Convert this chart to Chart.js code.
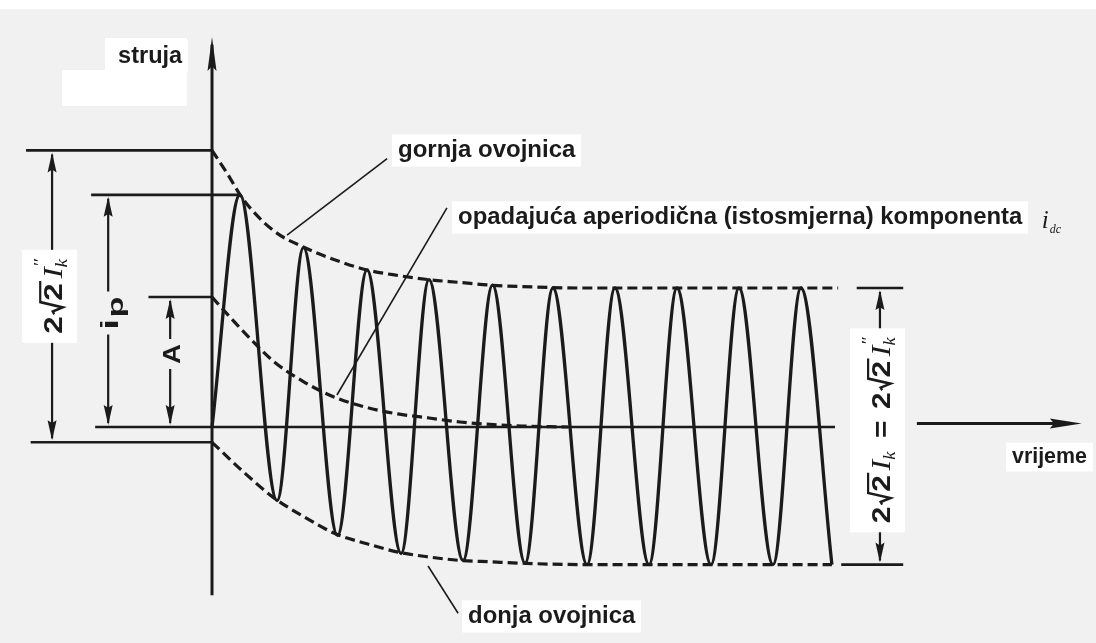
<!DOCTYPE html>
<html>
<head>
<meta charset="utf-8">
<title>Struja kratkog spoja</title>
<script src="https://cdn.jsdelivr.net/npm/chart.js@4.4.1/dist/chart.umd.min.js"></script>
<style>
  html, body { margin: 0; padding: 0; background: #f1f1f1; }
</style>
</head>
<body>
<canvas id="my-chart" width="1096" height="643"></canvas>
<script>
'use strict';

// t in ms (one period = 20 ms), current in units of the steady peak sqrt(2)*Ik
let waveTimes = [0, 9, 21, 29.5, 40.5, 50, 61, 70, 81, 90.5, 101, 110, 121, 130, 141, 150, 161, 170, 181, 190, 200];
let waveValues = [0, 1.67, -0.53, 1.29, -0.78, 1.13, -0.91, 1.06, -0.96, 1.02, -0.98, 1.0, -0.99, 1.0, -0.99, 1.0, -0.99, 1.0, -0.99, 1.0, -0.99];

let upperTimes = [0, 5, 10, 20, 30, 40, 50, 60, 70, 80, 90, 100, 120, 202];
let upperValues = [1.99, 1.82, 1.64, 1.41, 1.29, 1.2, 1.13, 1.09, 1.06, 1.04, 1.02, 1.01, 1.0, 1.0];

let lowerTimes = [0, 10, 20, 30, 40, 50, 60, 70, 80, 90, 100, 120, 200];
let lowerValues = [-0.11, -0.32, -0.51, -0.65, -0.77, -0.84, -0.9, -0.935, -0.96, -0.97, -0.98, -0.99, -0.99];

let dcTimes = [0, 5, 10, 20, 30, 40, 50, 60, 70, 80, 100, 115];
let dcValues = [0.935, 0.81, 0.69, 0.47, 0.32, 0.21, 0.14, 0.094, 0.065, 0.036, 0.007, 0];

// horizontal reference lines: 2*sqrt2*Ik'' top, i_p, A, bottom
let refLevels = [1.99, 1.67, 0.935, -0.11];
let refFrom = [-60, -39, -20.5, -58.5];
let refTo = [0, 9, 0, 0];

// reference lines for the steady state on the right
let rightLevels = [1.0, -0.99];
let rightFrom = [208, 203];
let rightTo = [223, 223];

let zeroFrom = -37.7;
let zeroTo = 201;

let ink = '#1b1b1b';

function sansBold(s) {
  return 'bold ' + s + 'px "Liberation Sans", Arial, sans-serif';
}
function serifItalic(s) {
  return 'italic ' + s + 'px "Liberation Serif", "Times New Roman", serif';
}

function series(times, values) {
  return times.map((t, i) => ({ x: t, y: values[i] }));
}

function lineSet(data, width, dash, smooth) {
  return {
    data: data,
    borderColor: ink,
    borderWidth: width,
    borderDash: dash || [],
    cubicInterpolationMode: smooth ? 'monotone' : 'default',
    pointRadius: 0,
    fill: false
  };
}

let datasets = [
  lineSet(series(waveTimes, waveValues), 3.3, null, true),
  lineSet(series(upperTimes, upperValues), 3.2, [10, 5], true),
  lineSet(series(lowerTimes, lowerValues), 3.2, [10, 5], true),
  lineSet(series(dcTimes, dcValues), 3.2, [10, 5], true),
  lineSet([{ x: zeroFrom, y: 0 }, { x: zeroTo, y: 0 }], 2.6)
];
for (let i = 0; i < refLevels.length; i++) {
  datasets.push(lineSet([{ x: refFrom[i], y: refLevels[i] }, { x: refTo[i], y: refLevels[i] }], 2.6));
}
for (let i = 0; i < rightLevels.length; i++) {
  datasets.push(lineSet([{ x: rightFrom[i], y: rightLevels[i] }, { x: rightTo[i], y: rightLevels[i] }], 2.6));
}

function arrowHead(ctx, x, y, angle, len, half) {
  ctx.save();
  ctx.translate(x, y);
  ctx.rotate(angle);
  ctx.beginPath();
  ctx.moveTo(0, 0);
  ctx.lineTo(-len, -half);
  ctx.lineTo(-len * 0.86, 0);
  ctx.lineTo(-len, half);
  ctx.closePath();
  ctx.fill();
  ctx.restore();
}

function fitText(ctx, text, left, base, width) {
  ctx.font = sansBold(100);
  let size = 100 * width / ctx.measureText(text).width;
  ctx.font = sansBold(size.toFixed(1));
  ctx.fillStyle = '#ffffff';
  ctx.fillRect(left - 6, base - size * 0.95, width + 12, size * 1.35);
  ctx.fillStyle = ink;
  ctx.textBaseline = 'alphabetic';
  ctx.fillText(text, left, base);
}

// lays out a small formula along one line; radicals get a drawn root sign
function layoutTokens(ctx, tokens) {
  let x = 0;
  let prevX = 0;
  let items = [];
  tokens.forEach(tk => {
    ctx.font = tk.font;
    let w = ctx.measureText(tk.text).width;
    let start = tk.stack ? prevX : x + (tk.gap || 0);
    let lead = tk.radical ? tk.size * 0.46 : 0;
    items.push({ tk: tk, x: start, lead: lead, w: w });
    if (!tk.stack) {
      prevX = start;
      x = start + lead + w + (tk.radical ? 2 : 0);
    }
  });
  return { items: items, width: x };
}

function drawRotatedFormula(ctx, tokens, baseX, centerY, length) {
  let lay = layoutTokens(ctx, tokens);
  ctx.save();
  ctx.translate(baseX, centerY);
  ctx.rotate(-Math.PI / 2);
  ctx.scale(length / lay.width, 1);
  ctx.translate(-lay.width / 2, 0);
  ctx.fillStyle = ink;
  ctx.strokeStyle = ink;
  ctx.textBaseline = 'alphabetic';
  lay.items.forEach(it => {
    let tk = it.tk;
    ctx.font = tk.font;
    if (tk.radical) {
      let s = tk.size;
      ctx.lineWidth = 2.2;
      ctx.beginPath();
      ctx.moveTo(it.x + 0.03 * s, -0.3 * s);
      ctx.lineTo(it.x + 0.12 * s, -0.36 * s);
      ctx.lineTo(it.x + 0.25 * s, 0.02 * s);
      ctx.lineTo(it.x + 0.42 * s, -0.84 * s);
      ctx.lineTo(it.x + it.lead + it.w + 2, -0.84 * s);
      ctx.stroke();
    }
    ctx.fillText(tk.text, it.x + it.lead, tk.dy || 0);
  });
  ctx.restore();
}

function ikTokens(withPrimes) {
  let t = [
    { text: '2', font: sansBold(26) },
    { text: '2', font: sansBold(26), radical: true, size: 26, gap: 1 },
    { text: 'I', font: serifItalic(28), gap: 2 },
    { text: 'k', font: serifItalic(16), dy: 5 }
  ];
  if (withPrimes) {
    t.push({ text: '\u2033', font: serifItalic(17), dy: -17, stack: true });
  }
  return t;
}

let diagramPlugin = {
  id: 'diagram',
  beforeDraw(chart) {
    let ctx = chart.ctx;
    ctx.save();
    ctx.fillStyle = '#f1f1f1';
    ctx.fillRect(0, 0, chart.width, chart.height);
    ctx.fillStyle = '#ffffff';
    ctx.fillRect(0, 0, chart.width, 9);
    ctx.fillRect(105, 38, 82, 34);
    ctx.fillRect(62, 70, 125, 36);
    ctx.restore();
  },
  afterDatasetsDraw(chart) {
    let ctx = chart.ctx;
    let X = v => chart.scales.x.getPixelForValue(v);
    let Y = v => chart.scales.y.getPixelForValue(v);
    ctx.save();
    ctx.fillStyle = ink;
    ctx.strokeStyle = ink;
    ctx.lineCap = 'butt';

    // current axis with arrow
    ctx.lineWidth = 3;
    ctx.beginPath();
    ctx.moveTo(X(0), Y(-1.21));
    ctx.lineTo(X(0), Y(2.75));
    ctx.stroke();
    arrowHead(ctx, X(0), Y(2.806), -Math.PI / 2, 34, 4.5);

    // time arrow
    ctx.beginPath();
    ctx.moveTo(X(227.4), Y(0.025));
    ctx.lineTo(X(275), Y(0.025));
    ctx.stroke();
    arrowHead(ctx, X(280.6), Y(0.025), 0, 32, 5);

    // dimension lines with labels
    let ipTokens = [
      { text: 'i', font: sansBold(24) },
      { text: 'p', font: sansBold(22), dy: 5, gap: 1 }
    ];
    let rightTokens = ikTokens(false).concat(
      [{ text: '=', font: sansBold(26), gap: 12 }],
      ikTokens(true).map((tk, k) => k === 0 ? Object.assign({}, tk, { gap: 10 }) : tk)
    );
    let dims = [
      { t: -51.6, top: refLevels[0], bottom: refLevels[3], tokens: ikTokens(true), len: 75, off: 0, box: true },
      { t: -33.5, top: refLevels[1], bottom: 0, tokens: ipTokens, len: 33, off: 2, box: false },
      { t: -13.5, top: refLevels[2], bottom: 0, tokens: [{ text: 'A', font: sansBold(24) }], len: 20, off: -8, box: false },
      { t: 215.5, top: rightLevels[0], bottom: rightLevels[1], tokens: rightTokens, len: 186, off: 4, box: true }
    ];
    dims.forEach(d => {
      let x = X(d.t);
      let y1 = Y(d.top);
      let y2 = Y(d.bottom);
      let cy = (y1 + y2) / 2 + d.off;
      let g1 = cy - d.len / 2 - 5;
      let g2 = cy + d.len / 2 + 5;
      ctx.lineWidth = 2.2;
      ctx.beginPath();
      ctx.moveTo(x, y1 + 4);
      ctx.lineTo(x, g1);
      ctx.moveTo(x, g2);
      ctx.lineTo(x, y2 - 4);
      ctx.stroke();
      arrowHead(ctx, x, y1 + 2, -Math.PI / 2, 20, 4.5);
      arrowHead(ctx, x, y2 - 2, Math.PI / 2, 20, 4.5);
      if (d.box) {
        ctx.fillStyle = '#ffffff';
        ctx.fillRect(x - 30, g1 - 4, 55, g2 - g1 + 8);
        ctx.fillStyle = ink;
      }
      drawRotatedFormula(ctx, d.tokens, x + 10, cy, d.len);
    });

    // leader lines
    let leaders = [
      [56.5, 1.93, 24.2, 1.38],
      [75.8, 1.576, 40.3, 0.23],
      [69.7, -1.0, 79.4, -1.34]
    ];
    ctx.lineWidth = 1.6;
    leaders.forEach(l => {
      ctx.beginPath();
      ctx.moveTo(X(l[0]), Y(l[1]));
      ctx.lineTo(X(l[2]), Y(l[3]));
      ctx.stroke();
    });

    // texts
    fitText(ctx, 'struja', X(-30.3), Y(2.62), 64);
    fitText(ctx, 'gornja ovojnica', X(60), Y(1.942), 177);
    fitText(ctx, 'opadajuća aperiodična (istosmjerna) komponenta', X(79.4), Y(1.46), 564);
    fitText(ctx, 'vrijeme', X(258.1), Y(-0.259), 75);
    fitText(ctx, 'donja ovojnica', X(82.6), Y(-1.41), 167);

    // i_dc symbol
    ctx.fillStyle = ink;
    ctx.font = serifItalic(25);
    ctx.fillText('i', X(267.7), Y(1.43));
    ctx.font = serifItalic(12);
    ctx.fillText('dc', X(267.7) + 8, Y(1.43) + 5);

    ctx.restore();
  }
};

let canvasElem = document.getElementById('my-chart');

let chartObj = {
  type: 'line',
  data: { datasets: datasets },
  options: {
    responsive: false,
    animation: false,
    devicePixelRatio: 1,
    layout: { padding: 0 },
    scales: {
      x: { type: 'linear', min: -68.4, max: 285.2, display: false },
      y: { type: 'linear', min: -1.554, max: 3.072, display: false }
    },
    plugins: {
      legend: { display: false },
      tooltip: { enabled: false }
    },
    elements: { point: { radius: 0 } }
  },
  plugins: [diagramPlugin]
};

new Chart(canvasElem, chartObj); //eslint-disable-line
</script>
</body>
</html>
